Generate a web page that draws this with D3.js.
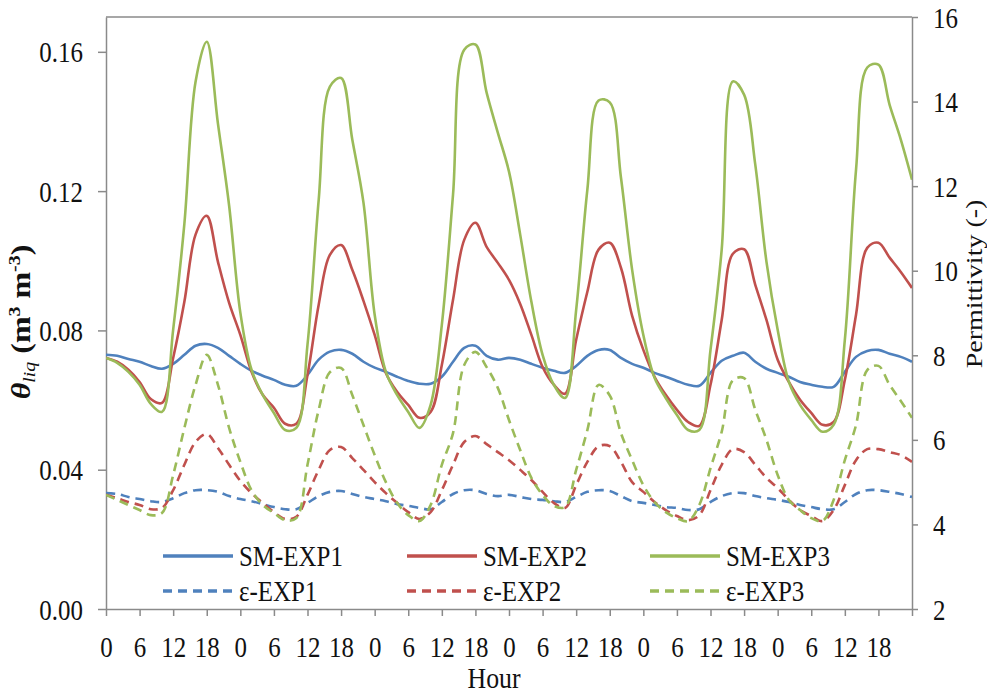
<!DOCTYPE html>
<html>
<head>
<meta charset="utf-8">
<script src="https://cdn.jsdelivr.net/npm/d3@7"></script>
<style>
  body { margin: 0; background: #ffffff; }
  svg { display: block; }
</style>
</head>
<body>
<svg id="chart" width="987" height="696"></svg>
<script>
// Sampling grid: every 2 hours over six days
const hours = d3.range(0, 145, 2);

// Liquid water content, m3 m-3 (left axis)
const smExp1 = [0.0730,0.0727,0.0718,0.0710,0.0698,0.0690,0.0704,0.0730,0.0756,0.0761,
  0.0750,0.0727,0.0704,0.0684,0.0670,0.0658,0.0644,0.0641,0.0672,0.0716,
  0.0739,0.0744,0.0733,0.0710,0.0693,0.0681,0.0667,0.0655,0.0647,0.0647,
  0.0667,0.0710,0.0750,0.0756,0.0727,0.0716,0.0721,0.0716,0.0704,0.0693,
  0.0684,0.0678,0.0698,0.0727,0.0744,0.0744,0.0721,0.0704,0.0693,0.0678,
  0.0667,0.0655,0.0644,0.0641,0.0678,0.0713,0.0727,0.0736,0.0710,0.0690,
  0.0678,0.0667,0.0652,0.0644,0.0638,0.0638,0.0681,0.0724,0.0741,0.0744,
  0.0733,0.0724,0.0710];
const smExp2 = [0.0721,0.0710,0.0687,0.0652,0.0603,0.0592,0.0721,0.0882,0.1075,0.1129,
  0.0997,0.0879,0.0787,0.0681,0.0615,0.0578,0.0532,0.0532,0.0672,0.0874,
  0.1017,0.1045,0.0974,0.0885,0.0787,0.0678,0.0624,0.0586,0.0549,0.0566,
  0.0701,0.0888,0.1060,0.1109,0.1040,0.0994,0.0945,0.0876,0.0787,0.0695,
  0.0644,0.0618,0.0773,0.0911,0.1032,0.1052,0.0980,0.0842,0.0744,0.0667,
  0.0615,0.0572,0.0537,0.0526,0.0644,0.0830,0.1020,0.1033,0.0931,0.0830,
  0.0716,0.0652,0.0601,0.0563,0.0529,0.0537,0.0658,0.0845,0.1037,0.1052,
  0.1009,0.0968,0.0922];
const smExp3 = [0.0721,0.0707,0.0681,0.0644,0.0589,0.0566,0.0802,0.1106,0.1514,0.1629,
  0.1394,0.1158,0.0851,0.0687,0.0615,0.0563,0.0514,0.0520,0.0759,0.1175,
  0.1500,0.1525,0.1348,0.1167,0.0845,0.0681,0.0615,0.0566,0.0520,0.0586,
  0.0816,0.1190,0.1606,0.1621,0.1483,0.1368,0.1256,0.1075,0.0882,0.0730,
  0.0644,0.0606,0.0859,0.1204,0.1460,0.1455,0.1239,0.0974,0.0787,0.0664,
  0.0606,0.0557,0.0514,0.0514,0.0744,0.1032,0.1515,0.1477,0.1276,0.0997,
  0.0802,0.0652,0.0586,0.0543,0.0509,0.0529,0.0773,0.1261,0.1555,0.1563,
  0.1448,0.1348,0.1233];

// Permittivity, dimensionless (right axis)
const epsExp1 = [4.74,4.72,4.65,4.60,4.55,4.53,4.62,4.74,4.81,4.81,
  4.77,4.67,4.60,4.55,4.48,4.41,4.36,4.36,4.51,4.67,
  4.77,4.79,4.72,4.65,4.60,4.55,4.48,4.44,4.39,4.36,
  4.53,4.72,4.81,4.81,4.72,4.67,4.70,4.65,4.60,4.58,
  4.55,4.53,4.65,4.77,4.81,4.79,4.67,4.55,4.51,4.46,
  4.41,4.39,4.34,4.36,4.53,4.67,4.74,4.74,4.67,4.62,
  4.58,4.53,4.46,4.41,4.36,4.36,4.53,4.72,4.81,4.81,
  4.77,4.72,4.65];
const epsExp2 = [4.70,4.62,4.53,4.46,4.36,4.39,4.81,5.41,5.95,6.14,
  5.81,5.41,5.03,4.74,4.51,4.29,4.13,4.18,4.70,5.29,
  5.76,5.83,5.57,5.29,5.00,4.74,4.51,4.29,4.13,4.29,
  4.81,5.41,5.95,6.09,5.90,5.71,5.52,5.29,5.05,4.77,
  4.51,4.39,4.93,5.48,5.85,5.85,5.48,5.00,4.77,4.53,
  4.34,4.20,4.10,4.22,4.81,5.41,5.78,5.71,5.41,5.10,
  4.86,4.58,4.34,4.20,4.08,4.34,4.93,5.52,5.78,5.78,
  5.71,5.64,5.48];
const epsExp3 = [4.70,4.58,4.46,4.34,4.22,4.27,5.17,6.28,7.30,8.01,
  7.30,6.28,5.48,4.81,4.46,4.27,4.10,4.15,5.41,6.71,
  7.60,7.70,7.06,6.35,5.64,5.00,4.51,4.22,4.08,4.46,
  5.41,6.16,7.77,8.08,7.72,7.23,6.47,5.76,5.10,4.70,
  4.44,4.41,5.29,6.23,7.30,7.05,6.16,5.52,4.93,4.53,
  4.29,4.15,4.08,4.46,5.33,6.19,7.41,7.46,6.71,6.00,
  5.17,4.58,4.34,4.15,4.08,4.58,5.52,6.35,7.65,7.75,
  7.30,6.92,6.52];

// Axis ticks
const hourTicks = d3.range(0, 139, 6);
const thetaTicks = [0, 0.04, 0.08, 0.12, 0.16];
const permTicks = [2, 4, 6, 8, 10, 12, 14, 16];

const seriesNames = ["SM-EXP1", "SM-EXP2", "SM-EXP3", "\u03b5-EXP1", "\u03b5-EXP2", "\u03b5-EXP3"];
const seriesColors = ["#4F81BD", "#C0504D", "#9BBB59"];

// ---- layout ----
const plot = { left: 106, right: 912, top: 17, bottom: 609 };
const FONT = "'Liberation Serif', 'Times New Roman', serif";
const FS = 29;        // label font size
const SX = 0.86;      // horizontal text squeeze
const AXIS_COLOR = "#8a8a8a";
const TEXT_COLOR = "#111111";

const svg = d3.select("#chart");

const x = d3.scaleLinear().domain([0, 144]).range([plot.left, plot.right]);
const yL = d3.scaleLinear().domain([0, 0.17]).range([plot.bottom, plot.top]);
const yR = d3.scaleLinear().domain([2, 16]).range([plot.bottom, plot.top]);

// clip for the data lines
svg.append("defs").append("clipPath").attr("id", "plotClip")
  .append("rect")
  .attr("x", plot.left).attr("y", plot.top - 2)
  .attr("width", plot.right - plot.left).attr("height", plot.bottom - plot.top + 2);

// frame (top edge)
svg.append("line")
  .attr("x1", plot.left).attr("x2", plot.right)
  .attr("y1", plot.top).attr("y2", plot.top)
  .attr("stroke", AXIS_COLOR).attr("stroke-width", 1.5);

function squeezeText(sel, dx, dy, anchor) {
  sel.attr("x", null).attr("y", null).attr("dy", null)
    .attr("text-anchor", anchor)
    .attr("transform", `translate(${dx},${dy}) scale(${SX},1)`)
    .attr("fill", TEXT_COLOR)
    .style("font-family", FONT)
    .style("font-size", FS + "px");
}

function styleAxis(g) {
  g.select(".domain").attr("stroke", AXIS_COLOR).attr("stroke-width", 1.5);
  g.selectAll(".tick line").attr("stroke", AXIS_COLOR).attr("stroke-width", 1.5);
}

// left axis
const gL = svg.append("g").attr("transform", `translate(${plot.left},0)`)
  .call(d3.axisLeft(yL).tickValues(thetaTicks).tickFormat(d3.format(".2f")).tickSize(8).tickSizeOuter(0));
styleAxis(gL);
squeezeText(gL.selectAll(".tick text"), -23, 10, "end");

// right axis
const gR = svg.append("g").attr("transform", `translate(${plot.right},0)`)
  .call(d3.axisRight(yR).tickValues(permTicks).tickSize(6).tickSizeOuter(0));
styleAxis(gR);
squeezeText(gR.selectAll(".tick text"), 21, 10, "start");

// bottom axis
const gB = svg.append("g").attr("transform", `translate(0,${plot.bottom})`)
  .call(d3.axisBottom(x).tickValues(hourTicks.concat([144]))
    .tickFormat(d => d === 144 ? "" : String(d % 24)).tickSize(7).tickSizeOuter(0));
styleAxis(gB);
squeezeText(gB.selectAll(".tick text"), 0, 48, "middle");

// axis titles
svg.append("text")
  .attr("transform", `translate(494,688) scale(${SX},1)`)
  .attr("text-anchor", "middle")
  .attr("fill", TEXT_COLOR)
  .style("font-family", FONT).style("font-size", (FS + 1) + "px")
  .text("Hour");

// rotated titles: the squeeze acts across the glyphs (screen x)
const TFS = 32;
const leftTitle = svg.append("text")
  .attr("transform", `translate(30,322) rotate(-90) scale(1,${SX})`)
  .attr("text-anchor", "middle")
  .attr("fill", TEXT_COLOR)
  .style("font-family", FONT).style("font-size", TFS + "px").style("font-weight", "bold");
leftTitle.append("tspan").style("font-style", "italic").text("\u03b8");
leftTitle.append("tspan").style("font-style", "italic").style("font-weight", "normal")
  .style("font-size", (TFS * 0.62) + "px").attr("dy", 6).text("liq");
leftTitle.append("tspan").attr("dy", -6).text(" (m");
leftTitle.append("tspan").style("font-size", (TFS * 0.62) + "px").attr("dy", -12).text("3");
leftTitle.append("tspan").attr("dy", 12).text(" m");
leftTitle.append("tspan").style("font-size", (TFS * 0.62) + "px").attr("dy", -12).text("-3");
leftTitle.append("tspan").attr("dy", 12).text(")");

svg.append("text")
  .attr("transform", `translate(982,284) rotate(-90) scale(1,${SX})`)
  .attr("text-anchor", "middle")
  .attr("fill", TEXT_COLOR)
  .style("font-family", FONT).style("font-size", "28px")
  .text("Permittivity (-)");

// data lines
const curve = d3.curveCatmullRom.alpha(0.5);
const lineL = d3.line().x((d, i) => x(hours[i])).y(d => yL(d)).curve(curve);
const lineR = d3.line().x((d, i) => x(hours[i])).y(d => yR(d)).curve(curve);

const lines = svg.append("g").attr("clip-path", "url(#plotClip)");
const smSeries = [smExp1, smExp2, smExp3];
const epsSeries = [epsExp1, epsExp2, epsExp3];
const DASH = "9,6";

smSeries.forEach((s, i) => {
  lines.append("path").datum(s)
    .attr("d", lineL).attr("fill", "none")
    .attr("stroke", seriesColors[i]).attr("stroke-width", 2.6)
    .attr("stroke-linejoin", "round");
});
epsSeries.forEach((s, i) => {
  lines.append("path").datum(s)
    .attr("d", lineR).attr("fill", "none")
    .attr("stroke", seriesColors[i]).attr("stroke-width", 2.6)
    .attr("stroke-dasharray", DASH);
});

// legend: two rows, three columns
const legendCols = [163, 407, 650];
const legendRowsY = [556, 591];
const legend = svg.append("g");
seriesNames.forEach((name, k) => {
  const col = k % 3, row = Math.floor(k / 3);
  const lx = legendCols[col], ly = legendRowsY[row];
  legend.append("line")
    .attr("x1", lx).attr("x2", lx + 70).attr("y1", ly).attr("y2", ly)
    .attr("stroke", seriesColors[col]).attr("stroke-width", 3.5)
    .attr("stroke-dasharray", row === 1 ? DASH : null);
  legend.append("text")
    .attr("transform", `translate(${lx + 76},${ly + 10}) scale(${SX},1)`)
    .attr("fill", TEXT_COLOR)
    .style("font-family", FONT).style("font-size", FS + "px")
    .text(name);
});
</script>
</body>
</html>
